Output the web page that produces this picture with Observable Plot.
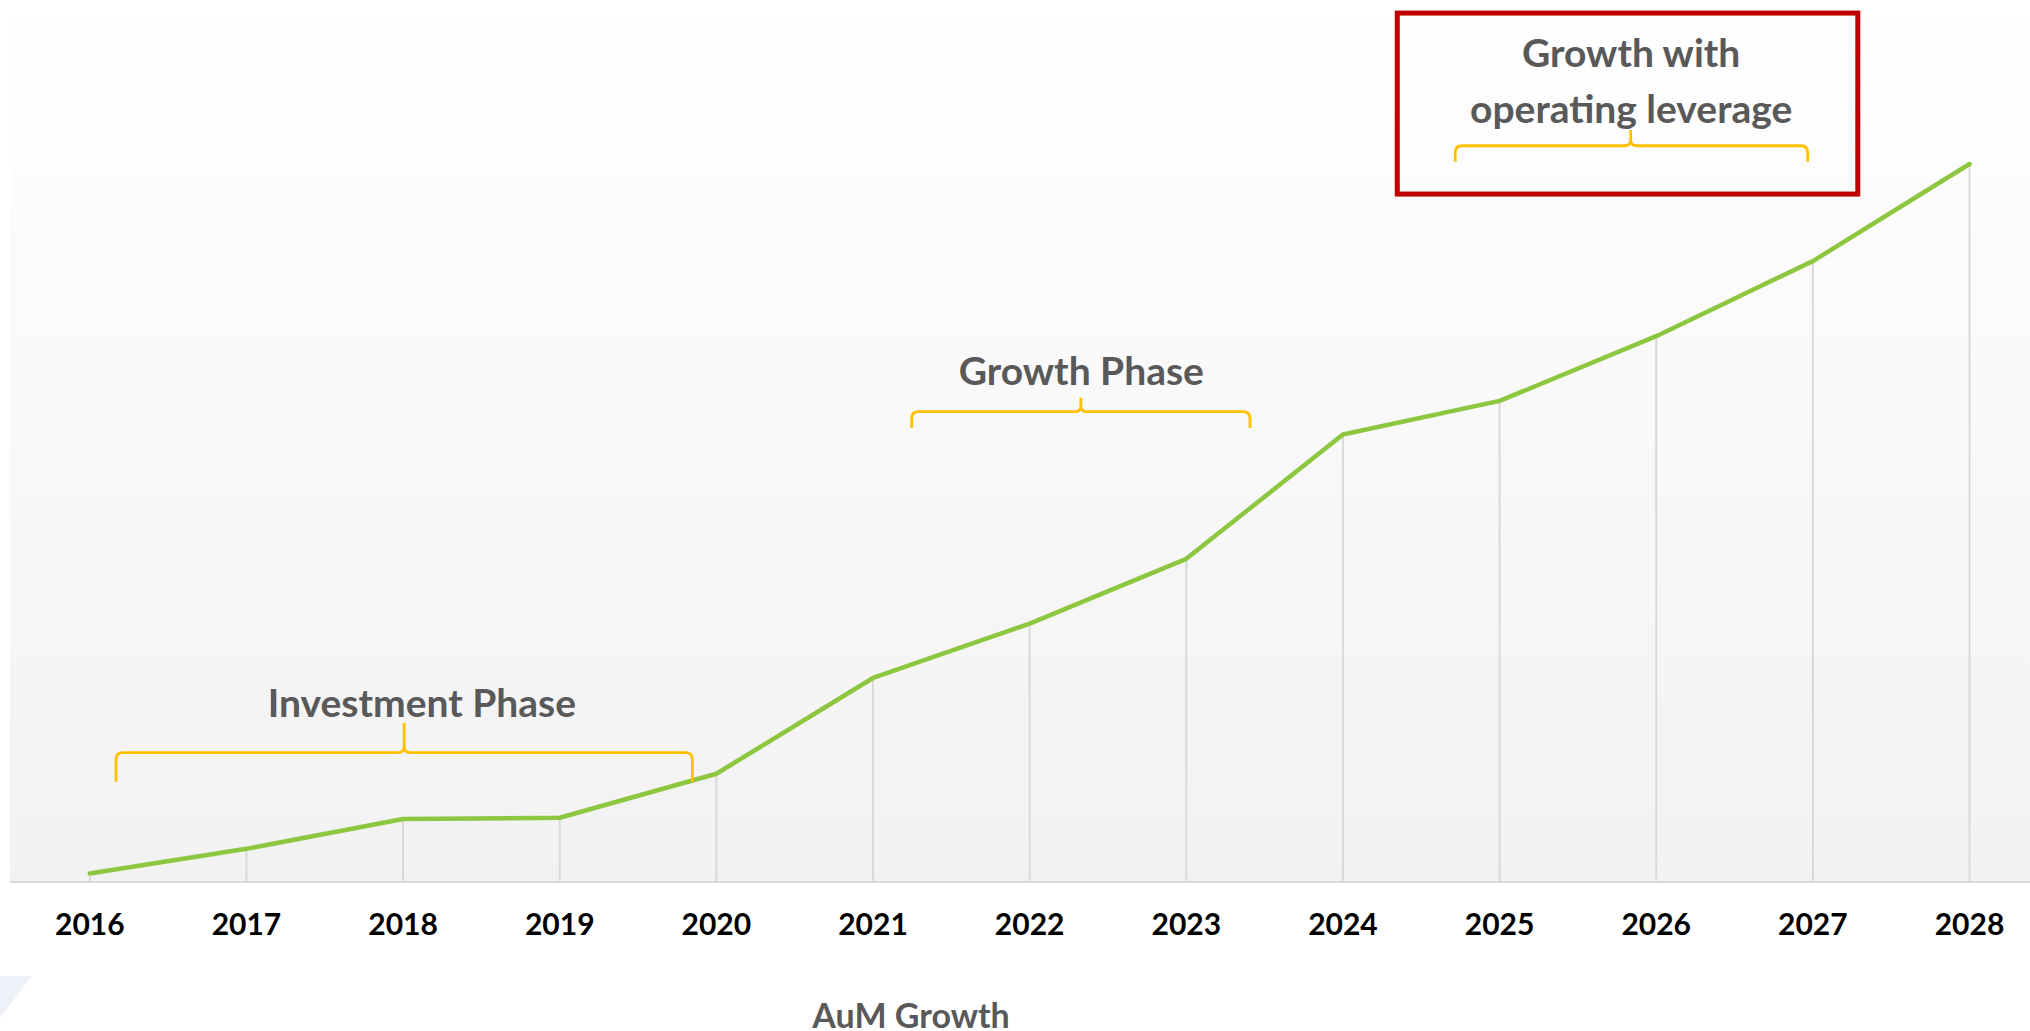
<!DOCTYPE html>
<html><head><meta charset="utf-8">
<script src="https://cdn.jsdelivr.net/npm/d3@7"></script>
<script src="https://cdn.jsdelivr.net/npm/@observablehq/plot@0.6"></script>
<style>
html,body{margin:0;padding:0;background:#fff;width:2030px;height:1031px;overflow:hidden;font-family:Lato,"Open Sans",sans-serif;}
#wrap{position:relative;width:2030px;height:1031px;}
#bg{position:absolute;left:10px;top:0;width:2020px;height:881px;background:linear-gradient(to bottom,#ffffff 0%,#f2f2f2 100%);border-bottom:2px solid #d9d9d9;}
#deco{position:absolute;left:0;top:960px;}
#chart{position:absolute;left:0;top:0;}
#caption{position:absolute;left:661px;width:500px;top:994px;text-align:center;font:700 34px Lato,"Open Sans",sans-serif;color:#595959;line-height:42px;}
</style></head>
<body>
<div id="wrap">
  <div id="bg"></div>
  <svg id="deco" width="40" height="71"><polygon points="0,16 32,16 0,58" fill="#eef2f8"/></svg>
  <div id="chart"></div>
  <div id="caption">AuM Growth</div>
</div>
<script>
// ---- data ----
const years = [2016, 2017, 2018, 2019, 2020, 2021, 2022, 2023, 2024, 2025, 2026, 2027, 2028];
const aum   = [7, 26, 49, 50, 84, 158, 200, 250, 346, 372, 422, 480, 555];

// phase annotations
const phaseLabels     = ["Investment Phase", "Growth Phase", "Growth with\noperating leverage"];
const phaseLabelYear  = [2018.12, 2022.33, 2025.84];
const phaseLabelValue = [141.5, 398, 622];
const braceStart = [2016.17, 2021.25, 2024.72];
const braceEnd   = [2019.85, 2023.41, 2026.97];
const braceMid   = [2018.01, 2022.33, 2025.84];
const braceLevel = [100, 363.3, 568.7];
const braceTip   = [122.8, 374, 580.8];
const braceFoot  = [77.5, 350.7, 556.4];
// highlight box around the last phase
const boxYear  = [2024.35, 2027.29];
const boxValue = [531.4, 671.2];

// ---- tables ----
const data = years.map((y, i) => ({year: y, value: aum[i]}));
const labels = phaseLabels.map((t, i) => ({text: t, x: phaseLabelYear[i], y: phaseLabelValue[i]}));
const box = [{x1: boxYear[0], x2: boxYear[1], y1: boxValue[0], y2: boxValue[1]}];

const font = "Lato, 'Open Sans', sans-serif";

const plot = Plot.plot({
  width: 2030,
  height: 960,
  marginTop: 0,
  marginBottom: 78,
  marginLeft: 89.3,
  marginRight: 61,
  style: {background: "transparent", overflow: "visible", fontFamily: font},
  x: {domain: [2016, 2028], ticks: years, tickFormat: "d", label: null},
  y: {domain: [0, 681.3], axis: null},
  marks: [
    Plot.axisX({ticks: years, tickFormat: "d", tickSize: 0, tickPadding: 31, fontSize: 30, fontWeight: 700, fill: "#000", label: null}),
    Plot.ruleX(data, {x: "year", y1: 0, y2: "value", stroke: "#d9d9d9", strokeWidth: 2}),
    Plot.line(data, {x: "year", y: "value", stroke: "#8DC63F", strokeWidth: 4.5, strokeLinejoin: "round"}),
    Plot.text(labels, {x: "x", y: "y", text: "text", fontSize: 39, fontWeight: 700, fill: "#595959", lineHeight: 1.42, fontFamily: font}),
    Plot.rect(box, {x1: "x1", x2: "x2", y1: "y1", y2: "y2", fill: "none", stroke: "#C00000", strokeWidth: 5})
  ]
});

// braces drawn with the plot's own scales
const sx = plot.scale("x"), sy = plot.scale("y");
const X = d3.scaleLinear().domain(sx.domain).range(sx.range);
const Y = d3.scaleLinear().domain(sy.domain).range(sy.range);
const g = d3.select(plot).append("g").attr("fill", "none").attr("stroke", "#FFC000").attr("stroke-width", 2.8);
braceStart.forEach((s, i) => {
  const xl = X(s), xr = X(braceEnd[i]), xm = X(braceMid[i]);
  const yb = Y(braceLevel[i]), yt = Y(braceTip[i]), ye = Y(braceFoot[i]);
  const r = 7, c = 6;
  const p = d3.path();
  p.moveTo(xl, ye);
  p.lineTo(xl, yb + r);
  p.quadraticCurveTo(xl, yb, xl + r, yb);
  p.lineTo(xm - c, yb);
  p.quadraticCurveTo(xm, yb, xm, yb - c);
  p.lineTo(xm, yt);
  p.moveTo(xm, yb - c);
  p.quadraticCurveTo(xm, yb, xm + c, yb);
  p.lineTo(xr - r, yb);
  p.quadraticCurveTo(xr, yb, xr, yb + r);
  p.lineTo(xr, ye);
  g.append("path").attr("d", p.toString());
});

document.getElementById("chart").appendChild(plot);
</script>
</body></html>
